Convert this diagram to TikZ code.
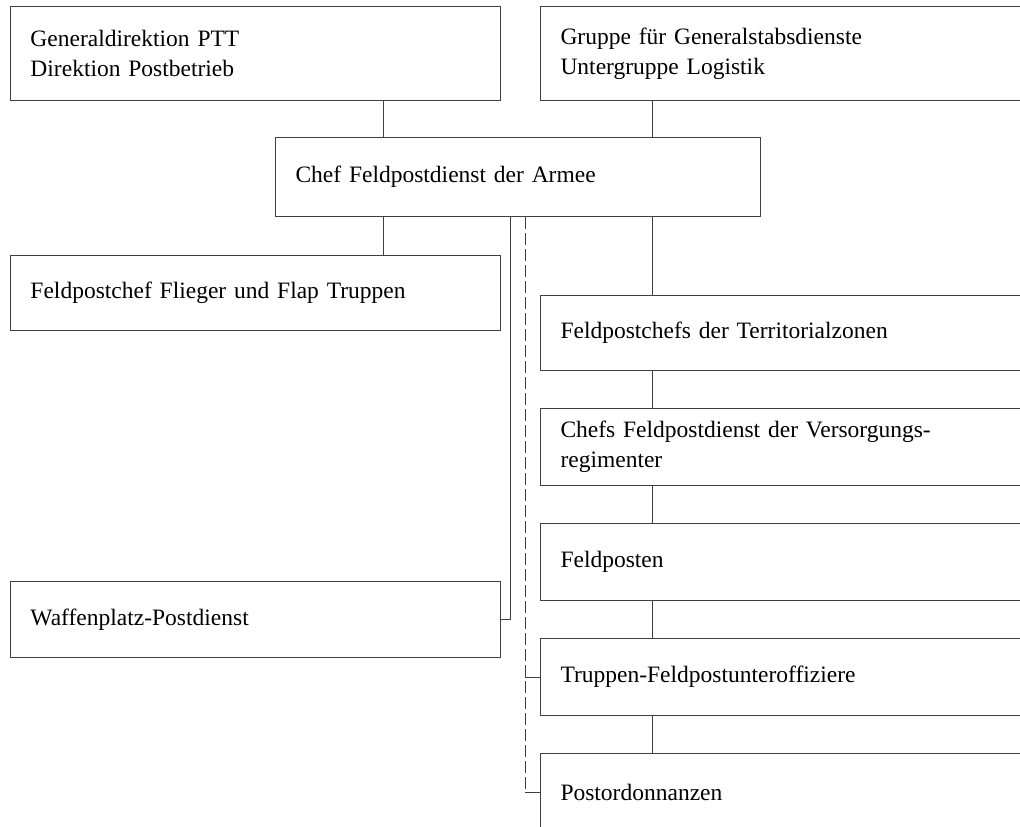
\documentclass[tikz,border=0pt]{standalone}
\usepackage{fontspec}
\setmainfont{Liberation Serif}
\usetikzlibrary{positioning}

\begin{document}
\begin{tikzpicture}[x=1pt, y=-1pt, node distance=37pt and 22pt, box/.style={draw=black!75, line width=1pt, anchor=north west, align=left, inner xsep=20pt, minimum height=77pt, font=\fontsize{23.5}{30}\selectfont}]
\tikzstyle{leftbox}=[box, text width=450pt]
\tikzstyle{rightbox}=[box, text width=460pt]
\tikzstyle{linea}=[draw=black!75, line width=1pt]
\tikzstyle{strich}=[linea, dash pattern=on 12pt off 4pt]

\useasboundingbox (0,0) rectangle (1020,827);
\clip (0,0) rectangle (1020,827);

\node (GD) [leftbox, minimum height=94pt] at (10,6) {Generaldirektion PTT\\Direktion Postbetrieb};
\node (GS) [rightbox, minimum height=94pt] at (540,6) {Gruppe für Generalstabsdienste\\Untergruppe Logistik};
\node (Chef) [box, text width=445pt, minimum height=79pt] at (275,137) {Chef Feldpostdienst der Armee};
\node (Flieger) [leftbox, minimum height=75pt] at (10,255) {Feldpostchef Flieger und Flap Truppen};
\node (Waffen) [leftbox, minimum height=76pt] at (10,581) {Waffenplatz-Postdienst};
\node (FPC) [rightbox, minimum height=75pt] at (540,295) {Feldpostchefs der Territorialzonen};
\node (Vers) [rightbox, below=of FPC] {Chefs Feldpostdienst der Versorgungs-\\regimenter};
\node (Posten) [rightbox, below=of Vers] {Feldposten};
\node (Truppen) [rightbox, below=of Posten] {Truppen-Feldpostunteroffiziere};
\node (Post) [rightbox, below=of Truppen] {Postordonnanzen};

% oben
\draw [linea] ([xshift=108pt]Chef.north west) -- ([xshift=108pt]Chef.north west |- GD.south);
\draw [linea] ([xshift=112pt]GS.south west) -- ([xshift=112pt]GS.south west |- Chef.north);

% mitte
\draw [linea] ([xshift=108pt]Chef.south west) -- ([xshift=108pt]Chef.south west |- Flieger.north);
\draw [linea] ([xshift=112pt]FPC.north west) -- ([xshift=112pt]FPC.north west |- Chef.south);
\draw [linea] ([xshift=235pt]Chef.south west) |- (Waffen.east);
\draw [strich] ([xshift=250pt]Chef.south west) -- ([xshift=250pt]Chef.south west |- Post.west);
\draw [linea] (Truppen.west) -- +(-15pt,0);
\draw [linea] (Post.west) -- +(-15pt,0);

% rechts
\draw [linea] ([xshift=112pt]FPC.south west) -- ([xshift=112pt]Vers.north west);
\draw [linea] ([xshift=112pt]Vers.south west) -- ([xshift=112pt]Posten.north west);
\draw [linea] ([xshift=112pt]Posten.south west) -- ([xshift=112pt]Truppen.north west);
\draw [linea] ([xshift=112pt]Truppen.south west) -- ([xshift=112pt]Post.north west);
\end{tikzpicture}
\end{document}
